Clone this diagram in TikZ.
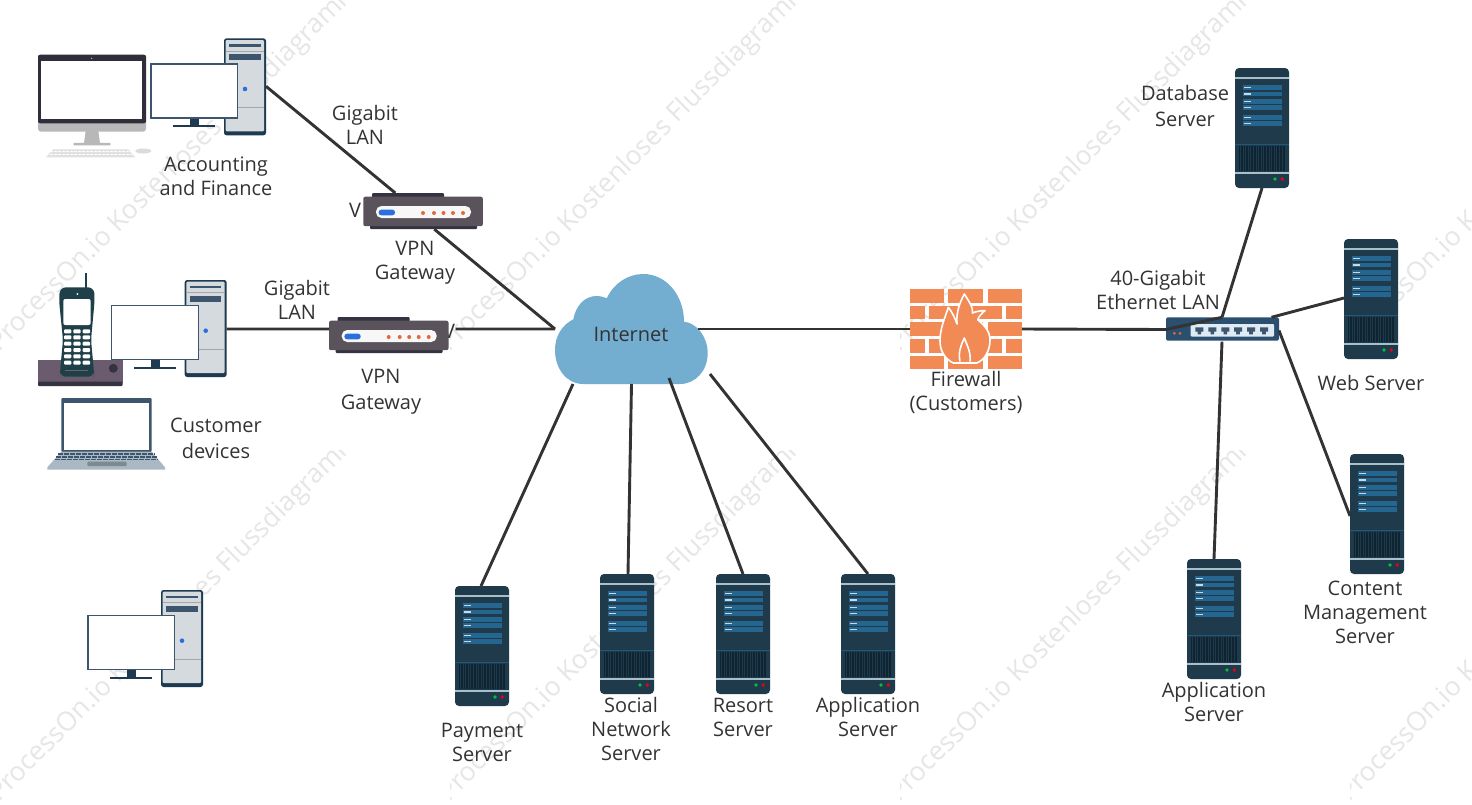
\documentclass[tikz,border=0pt]{standalone}
\usepackage{fontspec}
\setmainfont{Open Sans}
\definecolor{txt}{HTML}{333333}
\definecolor{wire}{HTML}{333333}
\definecolor{srvbody}{HTML}{1F3A4B}
\definecolor{srvpanel}{HTML}{24668F}
\definecolor{srvline}{HTML}{A9BFCA}
\definecolor{srvgrid}{HTML}{0E2433}
\definecolor{towerdark}{HTML}{1E3A50}
\definecolor{towerlight}{HTML}{D5DADE}
\definecolor{slate}{HTML}{3D566E}
\definecolor{blueled}{HTML}{2A6FDB}
\definecolor{gwbody}{HTML}{5A535C}
\definecolor{gwdark}{HTML}{353342}
\definecolor{orangeled}{HTML}{E2693A}
\definecolor{brick}{HTML}{F28A55}
\definecolor{cloudblue}{HTML}{73ADCF}
\definecolor{wmark}{HTML}{E6E6E6}
\definecolor{swbody}{HTML}{2B4F6E}
\definecolor{swpanel}{HTML}{DEEAF4}
\definecolor{phonebase}{HTML}{6B5B6E}
\definecolor{handset}{HTML}{1F4048}
\definecolor{lapbase}{HTML}{A9B8C2}
\definecolor{lappad}{HTML}{7C8A92}
\tikzset{
  x=1pt,y=-1pt,
  lbl/.style={text=txt,align=center,inner sep=0pt,font=\fontsize{20}{24}\selectfont},
  lblwide/.style={text=txt,align=center,inner sep=0pt,font=\fontsize{20}{25.5}\selectfont},
  connector/.style={draw=wire,line width=2.9pt},
  serverbody/.style={fill=srvbody,rounded corners=4pt,minimum width=54pt,minimum height=120pt,inner sep=0pt,outer sep=0pt},
  towerbody/.style={fill=towerdark,rounded corners=2.5pt,minimum width=42pt,minimum height=97pt,inner sep=0pt,outer sep=0pt},
  gwbodyshape/.style={fill=gwbody,rounded corners=2pt,minimum width=119.5pt,minimum height=29.5pt,inner sep=0pt,outer sep=0pt},
  wmarktext/.style={text=wmark,rotate=45,anchor=west,inner sep=0pt,font=\fontsize{26.5}{26.5}\selectfont}
}
% server: top-left at (#2,#3), 54x120
\newcommand{\serverrack}[3]{%
\begin{scope}[shift={(#2,#3)}]
  \node[serverbody] (#1) at (27,60) {};
  \fill[srvline] (0,9.3) rectangle (54,10.7);
  \foreach \ya/\yb in {17.3/22.3,23.6/28.3,31/36,37/41.7,46.7/51.5,53/57.7}{
    \fill[srvpanel] (8,\ya) rectangle (46.5,\yb);
    \fill[srvline!60!white] (9,{(\ya+\yb)/2-0.6}) rectangle (16,{(\ya+\yb)/2+0.6});
  }
  \fill[srvpanel!70!srvbody] (0,76.2) rectangle (54,77.2);
  \fill[srvgrid] (3.5,78) rectangle (50,103);
  \foreach \gx in {5,7.6,...,49}{\fill[srvbody] (\gx,78) rectangle (\gx+0.8,103);}
  \fill[srvline] (0,104.4) rectangle (54,105.8);
  \fill[green!50!teal] (40,111) circle (1.9);
  \fill[red!65!purple] (47.3,111) circle (1.9);
\end{scope}}
% tower with monitor: tower top-left at (#2,#3)
\newcommand{\desktop}[3]{%
\begin{scope}[shift={(#2,#3)}]
  \node[towerbody] (#1) at (21,48.5) {};
  \fill[towerlight,rounded corners=1pt] (1.7,1.7) rectangle (40,93);
  \fill[slate] (5.3,5.8) rectangle (36.7,8.4);
  \fill[slate] (5.3,16) rectangle (36.7,21.7);
  \fill[black!35] (1.7,12.2) rectangle (40,12.8);
  \fill[black!35] (1.7,68.7) rectangle (40,69.4);
  \fill[blueled] (21,50.7) circle (2.3);
  \fill[towerdark] (-34,80) rectangle (-24.7,88);
  \fill[towerdark] (-50.7,87) rectangle (-9,89);
  \draw[slate,fill=white,line width=1.2pt] (-73,25.6) rectangle (13.6,79.6);
\end{scope}}
% gateway: body top-left at (#2,#3)
\newcommand{\gateway}[3]{%
\begin{scope}[shift={(#2,#3)}]
  \fill[gwdark,rounded corners=1pt] (8.7,-3.7) rectangle (80.7,2);
  \fill[gwdark,rounded corners=1pt] (6.7,27) rectangle (113.7,32.3);
  \node[gwbodyshape] (#1) at (59.75,14.75) {};
  \fill[white!94!gray,rounded corners=5.5pt] (12.7,9.3) rectangle (107.7,21.3);
  \fill[blueled,rounded corners=2.6pt] (15.4,13) rectangle (31.7,18.6);
  \foreach \dx in {59.7,70.7,80.2,89.7,99.7}{\fill[orangeled] (\dx,16.3) circle (2);}
\end{scope}}
\begin{document}
\begin{tikzpicture}
\useasboundingbox (0,0) rectangle (1472,804);
\fill[white] (0,0) rectangle (1472,804);
% watermark tiles
\foreach \tx in {-100,350,800,1250}{
 \foreach \ty in {0,450}{
  \begin{scope}
   \clip (\tx+100,\ty) rectangle (\tx+450,\ty+450);
   \node[wmarktext] (wm\tx\ty) at (\tx+94,\ty+348) {ProcessOn.io Kostenloses Flussdiagramm};
  \end{scope}
 }}
% iMac
\fill[black!28,rounded corners=3pt] (38,118) rectangle (146,131.7);
\fill[black!28] (85.7,131) -- (98.3,131) -- (100,143) -- (84,143) -- cycle;
\fill[black!28,rounded corners=1pt] (73.3,142.8) rectangle (110.7,145.3);
\fill[gwdark!90!black,rounded corners=2pt] (38,54.7) rectangle (146,123.3);
\fill[white] (41,61) rectangle (142,118.7);
\fill[white!70!gwdark] (91.7,58.3) circle (0.7);
\fill[black!12] (53.3,149.3) -- (128.3,149.3) -- (135,157.3) -- (46,157.3) -- cycle;
\foreach \ky in {151.5,154.5}{\draw[white,line width=0.7pt,dash pattern=on 3pt off 1pt] (50,\ky) -- (132,\ky);}
\fill[black!14] (143.3,151) ellipse (8 and 2.5);
% phone base and handset
\fill[phonebase] (38,360) rectangle (122.7,383);
\fill[gwdark,rounded corners=1pt] (38,381.7) rectangle (122.7,386);
\fill[gwdark] (113.3,368.3) circle (4.5);
\fill[handset] (85,272.7) rectangle (87,290);
\fill[handset,rounded corners=6pt] (60,287.3) -- (94,287.3) -- (94.7,300) -- (91,340) -- (94,372) -- (94,376.7) -- (60,376.7) -- (60,372) -- (63,340) -- (59,300) -- cycle;
\fill[white] (77.3,294) circle (1);
\fill[white,rounded corners=2pt] (63.3,299) rectangle (90.7,325);
\foreach \ky in {329.3,335.3,341.7,348,354.3,360.7}{
  \foreach \kx in {64,73.3,82.7}{\fill[white,rounded corners=1pt] (\kx,\ky) rectangle (\kx+7.4,\ky+4);}
}
\draw[black!60,line width=0.8pt] (65,370) -- (88,370);
% laptop
\fill[slate,rounded corners=1pt] (61.3,398) rectangle (151.7,452);
\fill[white] (63.7,402.7) rectangle (149.3,450);
\fill[lapbase] (61.3,451.7) -- (151.7,451.7) -- (165,467.3) -- (165,469.7) -- (47.3,469.7) -- (47.3,467.3) -- cycle;
\foreach \ky/\kl/\kr in {454.3/58/155,456.9/56/157,459.4/55/158}{
  \draw[slate,line width=1.7pt,dash pattern=on 5pt off 1pt] (\kl,\ky) -- (\kr,\ky);}
\fill[lappad,rounded corners=1pt] (87.3,461.7) rectangle (126.7,466);
% desktops
\desktop{pcA}{224}{38.3}
\desktop{pcB}{184.7}{280}
\desktop{pcC}{161}{590}
% hidden V behind gateway B
\node[lbl] (vb) at (449,331) {V};
\gateway{gwA}{363.3}{196.7}
\gateway{gwB}{329}{320.7}
% cloud
\fill[cloudblue] (583.3,384) .. controls (566,384) and (555,368) .. (555,350)
  .. controls (555,336) and (562,325) .. (573.3,319.3)
  .. controls (576,305) and (585,296) .. (596.7,296)
  .. controls (600,296) and (604,297) .. (606.7,298.3)
  .. controls (614,283) and (628,274) .. (643.3,274)
  .. controls (666,274) and (684,295) .. (684,321.7)
  .. controls (697,323) and (707.7,337) .. (707.7,353.3)
  .. controls (707.7,370) and (696,384) .. (680,384) -- cycle;
\node[lbl] (inet) at (631,334) {Internet};
% firewall
\node[minimum width=112pt,minimum height=80pt,inner sep=0pt,outer sep=0pt] (fw) at (966,329) {};
\foreach \ya/\yb in {289/302.7,322.3/335.7,356/369}{
  \foreach \xa/\xb in {910/944,948.3/983.3,987.7/1022}{\fill[brick] (\xa,\ya) rectangle (\xb,\yb);}}
\foreach \ya/\yb in {306/319.3,339/352.7}{
  \foreach \xa/\xb in {910/925.3,929.3/964,968/1001.7,1006/1022}{\fill[brick] (\xa,\ya) rectangle (\xb,\yb);}}
\path[fill=brick,draw=white,line width=1.6pt,line join=round] (964.3,294)
  .. controls (970,303) and (973.5,308) .. (972.3,313)
  .. controls (976,311.5) and (981,310.5) .. (985,310.7)
  .. controls (982,313) and (979,316) .. (977.7,319.7)
  .. controls (984,325) and (990,331) .. (990,340)
  .. controls (990,350) and (985,360) .. (976.7,363)
  -- (953.3,363)
  .. controls (945,359) and (940,351) .. (940,341)
  .. controls (940,328) and (945,318) .. (948.3,307.3)
  .. controls (952,312) and (955,318) .. (957,324)
  .. controls (956,312) and (960,302) .. (964.3,294) -- cycle;
\draw[white,line width=1.6pt,line join=round] (960,361.5) .. controls (958,352) and (961,345) .. (964.3,338) .. controls (967,345) and (971,352) .. (970,361.5);
% switch
\node[fill=swbody,minimum width=113pt,minimum height=23.4pt,inner sep=0pt,outer sep=0pt,rounded corners=1.5pt] (sw) at (1222.5,329) {};
\fill[swpanel,rounded corners=1pt] (1190.7,324) rectangle (1274,336.7);
\foreach \px in {1199.3,1212.3,1225.3,1238,1251,1264}{
  \fill[slate] (\px-4,327.3) -- (\px+4,327.3) -- (\px+4,331.5) -- (\px+1.8,331.5) -- (\px+1.8,334.3) -- (\px-1.8,334.3) -- (\px-1.8,331.5) -- (\px-4,331.5) -- cycle;}
\fill[orangeled] (1174.3,333.3) circle (1.5);
\fill[orangeled] (1180,333.3) circle (1.5);
% servers
\serverrack{pay}{455}{586}
\serverrack{soc}{600}{574}
\serverrack{res}{716}{574}
\serverrack{appA}{841}{574}
\serverrack{db}{1235}{68}
\serverrack{web}{1344}{239}
\serverrack{cms}{1350}{454}
\serverrack{appB}{1187}{559}
% connectors
\path[connector] ([yshift=-48pt]pcA.north east) -- ([xshift=32pt,yshift=3.7pt]gwA.north west);
\path[connector] ([xshift=71pt,yshift=-3pt]gwA.south west) -- ([xshift=-76pt,yshift=5pt]inet.center);
\path[connector] ([yshift=5pt,xshift=-76pt]inet.center) -- ([xshift=7pt,yshift=6.5pt]gwB.east);
\path[connector] ([yshift=-49pt]pcB.north east) -- ([yshift=6.5pt]gwB.west);
\path[connector] ([xshift=67pt,yshift=5pt]inet.center) -- (fw.west);
\path[connector] (fw.east) -- ([yshift=-.5pt]sw.west) -- ([xshift=-.5pt]sw.north);
\path[connector] ([xshift=27pt]db.south west) -- ([xshift=-.5pt]sw.north);
\path[connector] ([yshift=-59pt]web.north west) -- ([xshift=49pt]sw.north);
\path[connector] ([yshift=-62pt]cms.north west) -- ([yshift=-1.5pt]sw.east);
\path[connector] ([xshift=27pt]appB.north west) -- ([yshift=-1pt,xshift=-.5pt]sw.south);
\path[connector] ([xshift=-58pt,yshift=-50pt]inet.center) -- ([xshift=26pt]pay.north west);
\path[connector] ([xshift=0.5pt,yshift=-50pt]inet.center) -- ([xshift=28pt]soc.north west);
\path[connector] ([xshift=38pt,yshift=-44pt]inet.center) -- ([xshift=27pt]res.north west);
\path[connector] ([xshift=79pt,yshift=-40pt]inet.center) -- ([xshift=27pt]appA.north west);
% labels
\node[lbl] (lA) at (216,176) {Accounting\\and Finance};
\node[lbl] (lB) at (365,125) {Gigabit\\LAN};
\node[lbl] (lC) at (415,262.5) {VPN\\Gateway};
\node[lbl] (lV) at (355,210) {V};
\node[lbl] (lD) at (297,300) {Gigabit\\LAN};
\node[lblwide] (lE) at (381,392) {VPN\\Gateway};
\node[lblwide] (lF) at (216,438.5) {Customer\\devices};
\node[lbl] (lG) at (966,392) {Firewall\\(Customers)};
\node[lbl] (lH) at (1158,290) {40-Gigabit\\Ethernet LAN};
\node[lblwide] (lI) at (1185,106) {Database\\Server};
\node[lbl] (lJ) at (1371,383) {Web Server};
\node[lbl] (lK) at (1365,612) {Content\\Management\\Server};
\node[lbl] (lL) at (1214,702) {Application\\Server};
\node[lbl] (lM) at (482,742) {Payment\\Server};
\node[lbl] (lN) at (631,728.5) {Social\\Network\\Server};
\node[lbl] (lO) at (743,717) {Resort\\Server};
\node[lbl] (lP) at (868,717) {Application\\Server};
\end{tikzpicture}
\end{document}
